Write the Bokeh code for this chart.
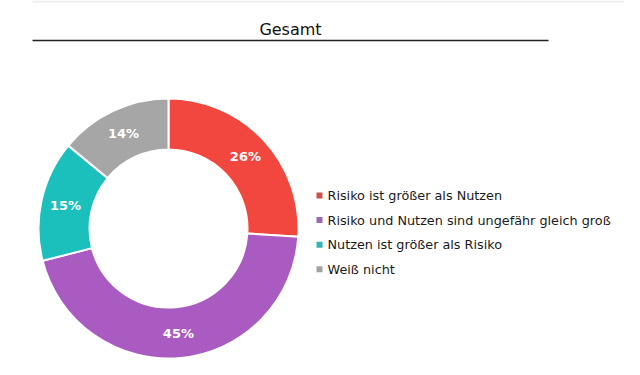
import numpy as np
from bokeh.plotting import figure
from bokeh.models import Range1d, ColumnDataSource
from bokeh.core.properties import value
from bokeh.embed import file_html
from bokeh.resources import INLINE

title = "Gesamt"
categories = ["Risiko ist größer als Nutzen",
              "Risiko und Nutzen sind ungefähr gleich groß",
              "Nutzen ist größer als Risiko",
              "Weiß nicht"]
shares = [26, 45, 15, 14]
colors = ["#F2473F", "#A95BC1", "#1BBFBB", "#A6A6A6"]
legend_colors = ["#C9524C", "#9A6AAE", "#30B5AF", "#A3A3A3"]

W, H = 624, 359
p = figure(width=W, height=H, output_backend="svg", toolbar_location=None,
           x_range=Range1d(0, W), y_range=Range1d(375 - H, 375),
           min_border=0, outline_line_color=None)
p.axis.visible = False
p.grid.visible = False
p.background_fill_color = "white"
p.border_fill_color = "white"

def Y(py):  # page y -> data y
    return 375 - py

cx, cy = 168, Y(228)
r_in, r_out = 79, 130

vals = np.array(shares, dtype=float)
frac = vals / vals.sum()
cum = np.concatenate([[0], np.cumsum(frac)])
start = np.pi / 2 - 2 * np.pi * cum[:-1]
end = np.pi / 2 - 2 * np.pi * cum[1:]
mid = (start + end) / 2
r_mid = (r_in + r_out) / 2 + 1

src = ColumnDataSource(dict(start=start, end=end, color=colors,
                            lx=cx + r_mid * np.cos(mid), ly=cy + r_mid * np.sin(mid),
                            label=[f"{v}%" for v in shares]))
p.annular_wedge(x=cx, y=cy, inner_radius=r_in, outer_radius=r_out,
                start_angle="start", end_angle="end", direction="clock",
                fill_color="color", line_color="white", line_width=2, source=src)
p.text(x="lx", y="ly", text="label", source=src, text_color="white",
       text_font=value("DejaVu Sans"), text_font_style="bold", text_font_size="13px",
       text_align="center", text_baseline="middle")

# title and rule
p.text(x=[290], y=[Y(29)], text=[title], text_font=value("DejaVu Sans"),
       text_font_size="16px", text_color="#111111", text_align="center",
       text_baseline="middle")
p.line(x=[32, 548], y=[Y(40), Y(40)], line_color="#222222", line_width=1.5)
p.line(x=[32, 640], y=[Y(1), Y(1)], line_color="#EEEEEE", line_width=2)

# legend
idx = np.arange(len(categories))
ly = Y(195 + 24.6 * idx)
lsrc = ColumnDataSource(dict(x=[319] * len(categories), tx=[327] * len(categories),
                             y=ly, color=legend_colors, label=categories))
p.scatter(x="x", y="y", marker="square", size=6, fill_color="color",
          line_color=None, source=lsrc)
p.text(x="tx", y="y", text="label", source=lsrc, text_color="#1A1A1A",
       text_font=value("DejaVu Sans"), text_font_size="12.8px",
       text_align="left", text_baseline="middle")

open("out.html", "w").write(file_html(p, INLINE))
